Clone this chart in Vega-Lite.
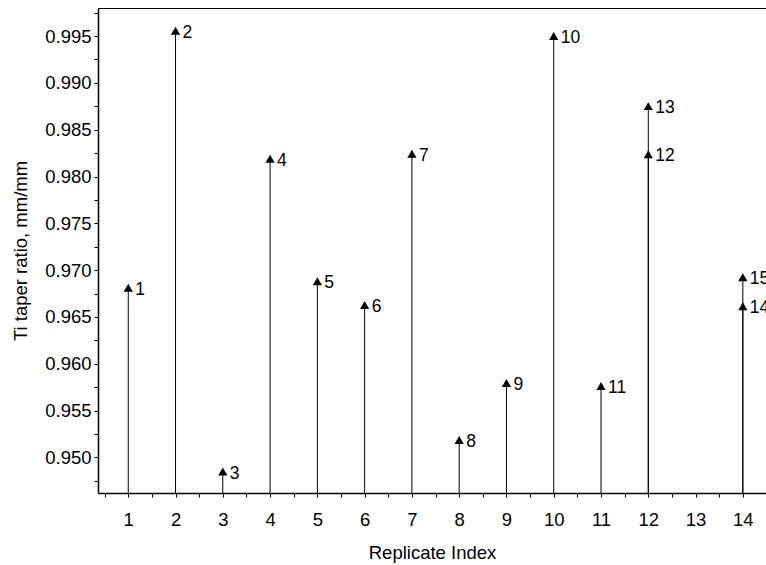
{
  "$schema": "https://vega.github.io/schema/vega-lite/v6.json",
  "width": 668,
  "height": 485,
  "autosize": {"type": "none"},
  "padding": {"left": 98, "top": 8, "right": 0, "bottom": 72},
  "background": "white",
  "config": {
    "view": {"stroke": null},
    "font": "Liberation Sans",
    "axis": {
      "grid": false,
      "domainColor": "black",
      "domainWidth": 1.5,
      "tickColor": "black",
      "tickWidth": 1,
      "labelColor": "black",
      "titleColor": "black",
      "labelFont": "Liberation Sans",
      "titleFont": "Liberation Sans",
      "labelFontSize": 18.5,
      "titleFontSize": 18.5,
      "titleFontWeight": "normal",
      "labelOverlap": false,
      "labelFlush": false,
      "labelBound": false
    }
  },
  "data": {
    "values": [
      {"idx": 1, "value": 0.96813, "label": "1"},
      {"idx": 2, "value": 0.99557, "label": "2"},
      {"idx": 3, "value": 0.94849, "label": "3"},
      {"idx": 4, "value": 0.98189, "label": "4"},
      {"idx": 5, "value": 0.96882, "label": "5"},
      {"idx": 6, "value": 0.96629, "label": "6"},
      {"idx": 7, "value": 0.98243, "label": "7"},
      {"idx": 8, "value": 0.95187, "label": "8"},
      {"idx": 9, "value": 0.95796, "label": "9"},
      {"idx": 10, "value": 0.995, "label": "10"},
      {"idx": 11, "value": 0.95764, "label": "11"},
      {"idx": 12, "value": 0.98239, "label": "12"},
      {"idx": 12, "value": 0.98752, "label": "13"},
      {"idx": 14, "value": 0.96615, "label": "14"},
      {"idx": 14, "value": 0.96925, "label": "15"}
    ]
  },
  "layer": [
    {
      "mark": {"type": "rule", "color": "black", "strokeWidth": 1},
      "encoding": {
        "x": {
          "field": "idx",
          "type": "quantitative",
          "scale": {"domain": [0.36, 14.49], "nice": false, "zero": false},
          "axis": {
            "orient": "bottom",
            "values": [0.5, 1, 1.5, 2, 2.5, 3, 3.5, 4, 4.5, 5, 5.5, 6, 6.5, 7, 7.5, 8, 8.5, 9, 9.5, 10, 10.5, 11, 11.5, 12, 12.5, 13, 13.5, 14, 14.5],
            "labelExpr": "datum.value % 1 === 0 ? format(datum.value, 'd') : ''",
            "tickSize": 4,
            "labelPadding": 13,
            "title": "Replicate Index",
            "titlePadding": 15
          }
        },
        "y": {
          "field": "value",
          "type": "quantitative",
          "scale": {"domain": [0.9462, 0.998], "nice": false, "zero": false},
          "axis": {
            "orient": "left",
            "values": [0.9475, 0.95, 0.9525, 0.955, 0.9575, 0.96, 0.9625, 0.965, 0.9675, 0.97, 0.9725, 0.975, 0.9775, 0.98, 0.9825, 0.985, 0.9875, 0.99, 0.9925, 0.995, 0.9975],
            "labelExpr": "round(datum.value * 10000) % 50 === 0 ? format(datum.value, '.3f') : ''",
            "tickSize": 4,
            "labelPadding": 3,
            "title": "Ti taper ratio, mm/mm",
            "titlePadding": 14
          }
        },
        "y2": {"datum": 0.9462}
      }
    },
    {
      "mark": {"type": "point", "shape": "triangle-up", "filled": true, "color": "black", "size": 85, "opacity": 1},
      "encoding": {
        "x": {
          "field": "idx",
          "type": "quantitative",
          "axis": {"orient": "top", "labels": false, "ticks": false, "title": null, "domainWidth": 1}
        },
        "y": {"field": "value", "type": "quantitative", "axis": null}
      }
    },
    {
      "mark": {"type": "text", "align": "left", "baseline": "middle", "dx": 7, "dy": 2, "fontSize": 17.5, "color": "black", "font": "Liberation Sans"},
      "encoding": {
        "x": {"field": "idx", "type": "quantitative", "axis": null},
        "y": {"field": "value", "type": "quantitative", "axis": null},
        "text": {"field": "label"}
      }
    }
  ],
  "resolve": {"axis": {"x": "independent", "y": "independent"}}
}
